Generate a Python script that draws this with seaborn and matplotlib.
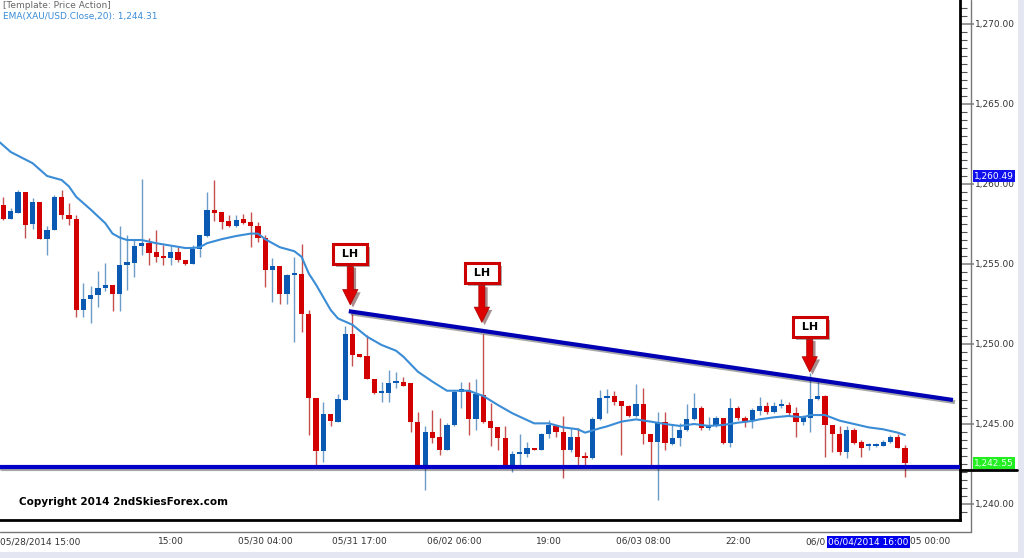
import numpy as np
import pandas as pd
import matplotlib
matplotlib.use("Agg")
import matplotlib.pyplot as plt
import matplotlib.patheffects as pe
from matplotlib.lines import Line2D
from matplotlib.patches import Rectangle
from matplotlib.transforms import blended_transform_factory
import seaborn as sns

# hourly XAU/USD candles
opens = [1258.7, 1257.8, 1258.2, 1259.5, 1257.5, 1258.85, 1256.55, 1257.15, 1259.2, 1258.05,
         1257.8, 1252.15, 1252.8, 1253.05, 1253.5, 1253.7, 1253.15, 1254.95, 1255.05, 1256.15,
         1256.3, 1255.75, 1255.5, 1255.4, 1255.75, 1255.25, 1255.0, 1255.95, 1256.75, 1258.4,
         1258.25, 1257.7, 1257.4, 1257.8, 1257.6, 1257.4, 1256.6, 1254.6, 1254.85, 1253.15,
         1254.3, 1254.4, 1251.9, 1246.6, 1243.3, 1245.65, 1245.15, 1246.5, 1250.6, 1249.35,
         1249.25, 1247.8, 1246.95, 1246.95, 1247.55, 1247.65, 1247.55, 1245.15, 1242.45, 1244.5,
         1244.2, 1243.4, 1244.95, 1247.0, 1247.1, 1245.3, 1246.8, 1245.2, 1244.8, 1244.1,
         1242.35, 1243.1, 1243.1, 1243.5, 1243.4, 1244.4, 1244.9, 1244.5, 1243.4, 1244.2,
         1243.0, 1242.85, 1245.3, 1246.65, 1246.75, 1246.45, 1246.1, 1245.5, 1246.25, 1244.4,
         1243.85, 1245.1, 1243.75, 1244.1, 1244.6, 1245.3, 1246.0, 1244.75, 1244.85, 1245.35,
         1243.8, 1246.0, 1245.35, 1245.25, 1245.8, 1246.1, 1245.75, 1246.1, 1246.2, 1245.7,
         1245.1, 1245.35, 1246.55, 1246.75, 1244.95, 1244.4, 1243.25, 1244.65, 1243.85, 1243.6,
         1243.65, 1243.65, 1243.9, 1244.2, 1243.5]
highs = [1259.2, 1258.5, 1259.6, 1259.5, 1259.1, 1258.85, 1257.35, 1259.3, 1259.6, 1258.8,
         1258.05, 1253.8, 1253.6, 1254.55, 1255.05, 1253.7, 1257.4, 1256.8, 1256.5, 1260.3,
         1256.6, 1257.1, 1256.2, 1256.15, 1256.05, 1255.25, 1256.2, 1256.8, 1259.5, 1260.25,
         1258.25, 1258.05, 1258.05, 1258.15, 1258.25, 1257.6, 1256.8, 1255.35, 1254.85, 1254.4,
         1255.45, 1256.25, 1252.15, 1246.6, 1246.4, 1245.65, 1246.9, 1251.15, 1251.85, 1249.35,
         1250.55, 1247.8, 1247.65, 1248.4, 1248.25, 1247.95, 1247.55, 1245.75, 1244.85, 1245.9,
         1245.35, 1245.05, 1247.15, 1247.65, 1247.65, 1247.8, 1250.65, 1246.3, 1244.8, 1244.85,
         1243.3, 1244.35, 1243.9, 1243.5, 1244.45, 1245.25, 1244.9, 1245.5, 1244.75, 1244.75,
         1243.25, 1245.45, 1247.15, 1247.2, 1247.05, 1246.45, 1246.2, 1247.5, 1247.25, 1244.4,
         1245.75, 1245.75, 1244.95, 1245.05, 1246.25, 1246.95, 1246.15, 1245.45, 1245.5, 1245.4,
         1246.65, 1246.15, 1245.5, 1246.0, 1246.7, 1246.4, 1246.4, 1246.55, 1246.4, 1246.05,
         1245.55, 1248.2, 1247.65, 1246.8, 1244.95, 1244.85, 1244.85, 1244.75, 1244.0, 1243.8,
         1243.8, 1244.0, 1244.3, 1244.4, 1243.7]
lows = [1257.75, 1257.8, 1258.2, 1256.6, 1257.2, 1256.55, 1255.55, 1257.15, 1257.8, 1257.45,
        1251.7, 1251.7, 1251.3, 1252.3, 1253.3, 1252.05, 1252.05, 1253.4, 1254.2, 1255.55,
        1254.95, 1255.15, 1254.95, 1254.95, 1255.15, 1254.95, 1255.0, 1255.45, 1256.7, 1257.7,
        1257.2, 1257.3, 1257.3, 1257.5, 1256.05, 1256.4, 1253.55, 1252.6, 1252.5, 1252.5,
        1250.1, 1250.75, 1244.3, 1242.35, 1242.65, 1244.85, 1245.15, 1246.5, 1248.6, 1249.2,
        1247.8, 1246.9, 1246.35, 1246.4, 1247.25, 1247.35, 1244.5, 1242.45, 1240.9, 1243.8,
        1243.05, 1243.4, 1244.85, 1246.0, 1244.3, 1244.65, 1245.05, 1243.6, 1243.35, 1242.35,
        1242.0, 1242.35, 1242.95, 1243.4, 1243.35, 1244.1, 1244.2, 1241.6, 1243.25, 1242.45,
        1242.4, 1242.8, 1245.25, 1245.7, 1246.2, 1243.05, 1245.45, 1245.45, 1243.75, 1242.45,
        1240.25, 1243.4, 1243.7, 1243.6, 1244.55, 1245.25, 1244.65, 1244.6, 1244.8, 1243.75,
        1243.55, 1245.25, 1244.8, 1244.75, 1245.55, 1245.65, 1245.7, 1246.0, 1245.55, 1244.2,
        1244.95, 1244.5, 1246.5, 1242.95, 1243.25, 1243.05, 1242.85, 1243.75, 1242.95, 1243.4,
        1243.55, 1243.6, 1243.8, 1243.5, 1241.7]
closes = [1257.8, 1258.3, 1259.5, 1257.45, 1258.85, 1256.55, 1257.15, 1259.2, 1258.05, 1257.8,
          1252.15, 1252.8, 1253.05, 1253.5, 1253.7, 1253.15, 1254.95, 1255.1, 1256.15, 1256.3,
          1255.7, 1255.45, 1255.4, 1255.75, 1255.25, 1255.0, 1255.95, 1256.8, 1258.4, 1258.2,
          1257.65, 1257.4, 1257.75, 1257.55, 1257.4, 1256.6, 1254.6, 1254.85, 1253.15, 1254.3,
          1254.4, 1251.9, 1246.6, 1243.3, 1245.65, 1245.2, 1246.55, 1250.6, 1249.3, 1249.2,
          1247.8, 1246.95, 1247.0, 1247.55, 1247.65, 1247.4, 1245.1, 1242.45, 1244.5, 1244.1,
          1243.4, 1244.95, 1247.0, 1247.2, 1245.3, 1246.9, 1245.15, 1244.75, 1244.1, 1242.35,
          1243.1, 1243.15, 1243.5, 1243.4, 1244.35, 1244.95, 1244.5, 1243.4, 1244.2, 1242.95,
          1242.85, 1245.3, 1246.65, 1246.75, 1246.4, 1246.1, 1245.5, 1246.25, 1244.4, 1243.85,
          1245.05, 1243.8, 1244.1, 1244.65, 1245.3, 1246.0, 1244.75, 1244.85, 1245.35, 1243.8,
          1246.0, 1245.35, 1245.2, 1245.85, 1246.1, 1245.75, 1246.1, 1246.25, 1245.7, 1245.1,
          1245.45, 1246.55, 1246.75, 1244.95, 1244.4, 1243.25, 1244.65, 1243.8, 1243.5, 1243.65,
          1243.75, 1243.9, 1244.2, 1243.5, 1242.55]

# EMA(20) read at sample bars
ema_idx = [-0.5, 1, 4, 6, 8, 9, 10, 12, 14, 15, 16, 17, 19, 21, 23, 25, 26, 27, 28, 30,
           32, 34, 35, 36, 38, 40, 41, 42, 43, 45, 46, 48, 50, 52, 54, 55, 57, 59, 61, 62,
           64, 66, 68, 70, 72, 73, 75, 77, 79, 80, 82, 83, 85, 87, 89, 91, 93, 95, 97, 99,
           101, 103, 104, 106, 108, 110, 111, 113, 115, 117, 119, 121, 123, 124]
ema_val = [1262.6, 1262.0, 1261.3, 1260.5, 1260.25, 1259.85, 1259.2, 1258.4, 1257.55, 1256.9,
           1256.65, 1256.5, 1256.5, 1256.3, 1256.15, 1256.0, 1256.0, 1256.05, 1256.3, 1256.55,
           1256.75, 1256.9, 1256.9, 1256.55, 1256.05, 1255.8, 1255.45, 1254.4, 1253.7, 1252.13,
           1251.6, 1251.2, 1250.46, 1249.94, 1249.58, 1249.21, 1248.27, 1247.65, 1247.08, 1247.08,
           1247.08, 1246.75, 1246.19, 1245.67, 1245.25, 1245.04, 1245.04, 1244.79, 1244.67, 1244.46,
           1244.73, 1244.85, 1245.15, 1245.29, 1245.15, 1245.0, 1244.88, 1245.0, 1244.88, 1244.94,
           1245.08, 1245.19, 1245.29, 1245.42, 1245.5, 1245.42, 1245.56, 1245.56, 1245.21, 1245.0,
           1244.79, 1244.67, 1244.46, 1244.31]

# x-axis ticks every 13 bars (the last two labels sit half under the cursor flag)
tick_idx = [10, 23, 36, 49, 62, 75, 88, 101, 114, 127]
tick_labels = ["", "15:00", "05/30 04:00", "05/31 17:00", "06/02 06:00", "19:00",
               "06/03 08:00", "22:00", "", ""]
first_label = "05/28/2014 15:00"
cursor_idx = 119
cursor_label = "06/04/2014 16:00"
cut_left = "06/0"
cut_right = "05 00:00"

# drawn levels
support_level = 1242.3
trend_x = [47.5, 130.6]
trend_y = [1252.05, 1246.5]
lh_idx = [47.7, 65.8, 110.9]
lh_tip = [1252.45, 1251.35, 1248.25]
lh_gap = [51, 49, 45]
flag_level = 1260.49

df = pd.DataFrame({"o": opens, "h": highs, "l": lows, "c": closes})
df["i"] = np.arange(len(df))
df["up"] = df["c"] >= df["o"]

sns.set_style("white")
plt.rcParams["font.family"] = ["DejaVu Sans"]

fig = plt.figure(figsize=(10.24, 5.58), dpi=100, facecolor="white")
ax = fig.add_axes([0, 38 / 558, 960 / 1024, 520 / 558])
ax.set_facecolor("white")

red_body, blue_body = "#d20000", "#0a5ab4"
red_wick, blue_wick = "#c45050", "#6c9cc8"

for up, body_c, wick_c in [(True, blue_body, blue_wick), (False, red_body, red_wick)]:
    d = df[df["up"] == up]
    ax.vlines(d["i"], d["l"], d["h"], color=wick_c, lw=1, zorder=2)
    lo = np.minimum(d["o"], d["c"])
    ht = np.maximum((d["o"] - d["c"]).abs(), 0.12)
    ax.bar(d["i"], ht, bottom=lo, width=0.72, color=body_c, linewidth=0, zorder=3)

sns.lineplot(x=ema_idx, y=ema_val, ax=ax, color="#3a8cd6", lw=1.5, zorder=4)

ax.axhline(support_level, color="#0000c8", lw=3,
           path_effects=[pe.SimpleLineShadow(offset=(1.5, -1.5), alpha=0.35), pe.Normal()], zorder=5)
ax.plot(trend_x, trend_y, color="#0000b4", lw=3, solid_capstyle="butt",
        path_effects=[pe.SimpleLineShadow(offset=(1.5, -1.5), alpha=0.35), pe.Normal()], zorder=5)

for xi, yi, g in zip(lh_idx, lh_tip, lh_gap):
    ann = ax.annotate(" LH ", xy=(xi, yi), xycoords="data", xytext=(0, g), textcoords="offset pixels",
                      ha="center", va="center", fontsize=8, fontweight="bold", color="black",
                      bbox=dict(boxstyle="square,pad=0.45", fc="white", ec="#cc0000", lw=2.2),
                      arrowprops=dict(arrowstyle="simple,head_length=1.0,head_width=1.0,tail_width=0.4",
                                      fc="#dd0000", ec="#aa0000", lw=0.5, shrinkA=0, shrinkB=0,
                                      mutation_scale=11),
                      zorder=6)
    ann.get_bbox_patch().set_path_effects([pe.withSimplePatchShadow(offset=(2, -2), alpha=0.45)])
    ann.arrow_patch.set_path_effects([pe.withSimplePatchShadow(offset=(2, -2), alpha=0.45)])

for s in ["left", "top"]:
    ax.spines[s].set_visible(False)
for s in ["right", "bottom"]:
    ax.spines[s].set_color("black")
    ax.spines[s].set_linewidth(2)

ax.yaxis.tick_right()
ax.set_yticks(np.arange(1240, 1271, 5))
ax.set_yticks(np.arange(1239.5, 1271.5, 0.5), minor=True)
ax.set_yticklabels([f"{v:,.2f}" for v in np.arange(1240, 1271, 5)])
ax.tick_params(axis="y", which="major", length=10, width=1.2, color="#888888", pad=1,
               labelsize=6.5, labelcolor="#333333")
ax.tick_params(axis="y", which="minor", length=5, width=0.8, color="#555555")

ax.set_xticks(tick_idx)
ax.set_xticklabels(tick_labels)
ax.set_xticks([t + k * 13 / 8 for t in [-3] + tick_idx for k in range(1, 8)], minor=True)
ax.tick_params(axis="x", which="major", length=8.5, width=1.2, color="#555555", pad=3.5,
               labelsize=6.5, labelcolor="#333333")
ax.tick_params(axis="x", which="minor", length=3.5, width=0.8, color="#555555")

# limits last, so the tick setters do not widen them
ax.set_xlim(-0.48, 131.57)
ax.set_ylim(1239.0, 1271.5)
ax.set_xlabel("")
ax.set_ylabel("")

# ruler lines of the price / time scales
ax.add_line(Line2D([0, 971 / 960], [-11.7 / 520, -11.7 / 520], transform=ax.transAxes,
                   color="#777777", lw=1, clip_on=False))
ax.add_line(Line2D([971 / 960, 971 / 960], [-11.7 / 520, 1], transform=ax.transAxes,
                   color="#777777", lw=1, clip_on=False))

# price flags on the scale
by = blended_transform_factory(ax.transAxes, ax.transData)
ax.text(974 / 960, flag_level, f"{flag_level:,.2f}", transform=by, ha="left", va="center", fontsize=6.5,
        color="white", bbox=dict(boxstyle="square,pad=0.15", fc="#1010ee", ec="none"), zorder=7, clip_on=False)
ax.text(974 / 960, closes[-1], f"{closes[-1]:,.2f}", transform=by, ha="left", va="center", fontsize=6.5,
        color="#e8ffe8", bbox=dict(boxstyle="square,pad=0.15", fc="#22ee22", ec="none"), zorder=7, clip_on=False)
ax.add_line(Line2D([1, 1017 / 960], [closes[-1] - 0.42, closes[-1] - 0.42], transform=by,
                   color="black", lw=2, clip_on=False))

# time flag at the cursor bar, with the clipped neighbour labels either side
bx = blended_transform_factory(ax.transData, ax.transAxes)
flag = ax.text(cursor_idx, -22 / 520, cursor_label, transform=bx, ha="center", va="center", fontsize=6.5,
               color="white", bbox=dict(boxstyle="square,pad=0.12", fc="#0000ee", ec="none"),
               zorder=7, clip_on=False)
ax.annotate(cut_left, xy=(0, 0.5), xycoords=flag, xytext=(-2, 0), textcoords="offset points",
            ha="right", va="center", fontsize=6.5, color="#333333")
ax.annotate(cut_right, xy=(1, 0.5), xycoords=flag, xytext=(1, 0), textcoords="offset points",
            ha="left", va="center", fontsize=6.5, color="#333333")
fig.text(0, 16 / 558, first_label, ha="left", va="center", fontsize=6.5, color="#333333")

ax.text(19 / 960, 18 / 520, "Copyright 2014 2ndSkiesForex.com", transform=ax.transAxes,
        ha="left", va="center", fontsize=7.5, fontweight="bold", color="black", zorder=7)

fig.text(3 / 1024, 1 - 6 / 558, "[Template: Price Action]", ha="left", va="center",
         fontsize=6.5, color="#666666")
fig.text(3 / 1024, 1 - 16 / 558, f"EMA(XAU/USD.Close,20): {ema_val[-1]:,.2f}", ha="left", va="center",
         fontsize=6.5, color="#3a8cd6")

# window frame strips
fig.patches.append(Rectangle((1018 / 1024, 0), 6 / 1024, 1, transform=fig.transFigure,
                             fc="#e4e7f1", ec="none", zorder=-1))
fig.patches.append(Rectangle((0, 0), 1, 6 / 558, transform=fig.transFigure,
                             fc="#e4e7f1", ec="none", zorder=-1))

fig.savefig("out.png", dpi=100, facecolor="white")
